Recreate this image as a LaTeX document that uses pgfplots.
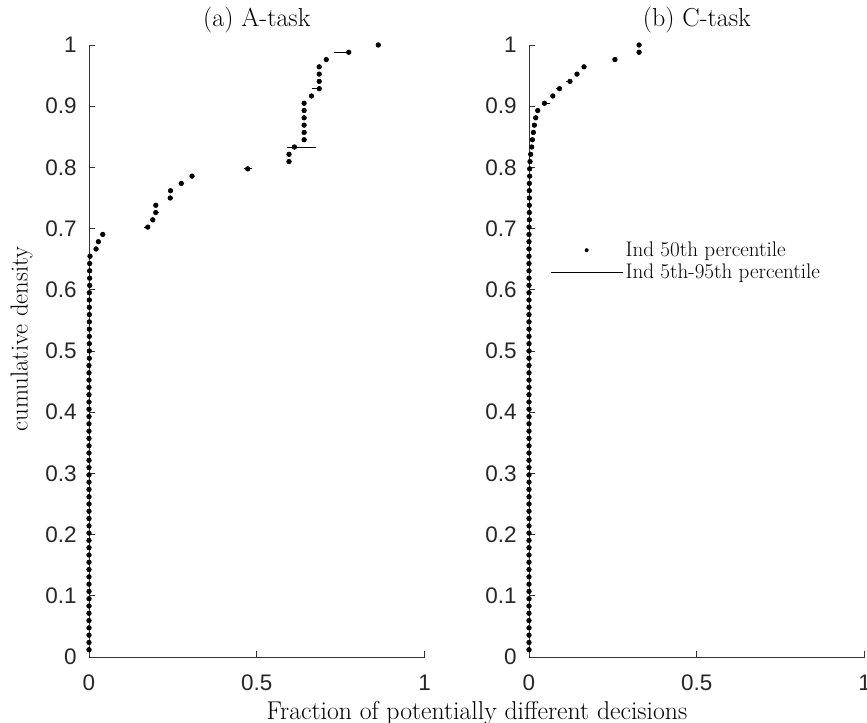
\documentclass[border=0pt]{standalone}
\usepackage{fontspec}
\newfontfamily\ticksans{Liberation Sans}
\usepackage{pgfplots}
\usepackage{pgfplotstable}
\pgfplotsset{compat=1.18}

% A-task: median fraction (x), cumulative density (y), 5th/95th spread (em, ep)
\pgfplotstableread{
x y em ep
0.000 0.0119 0 0
0.000 0.0238 0 0
0.000 0.0357 0 0
0.000 0.0476 0 0
0.000 0.0595 0 0
0.000 0.0714 0 0
0.000 0.0833 0 0
0.000 0.0952 0 0
0.000 0.1071 0 0
0.000 0.1190 0 0
0.000 0.1310 0 0
0.000 0.1429 0 0
0.000 0.1548 0 0
0.000 0.1667 0 0
0.000 0.1786 0 0
0.000 0.1905 0 0
0.000 0.2024 0 0
0.000 0.2143 0 0
0.000 0.2262 0 0
0.000 0.2381 0 0
0.000 0.2500 0 0
0.000 0.2619 0 0
0.000 0.2738 0 0
0.000 0.2857 0 0
0.000 0.2976 0 0
0.000 0.3095 0 0
0.000 0.3214 0 0
0.000 0.3333 0 0
0.000 0.3452 0 0
0.000 0.3571 0 0
0.000 0.3690 0 0
0.000 0.3810 0 0
0.000 0.3929 0 0
0.000 0.4048 0 0
0.000 0.4167 0 0
0.000 0.4286 0 0
0.000 0.4405 0 0
0.000 0.4524 0 0
0.000 0.4643 0 0
0.000 0.4762 0 0
0.001 0.4881 0 0
0.001 0.5000 0 0
0.001 0.5119 0 0
0.001 0.5238 0 0
0.001 0.5357 0 0
0.001 0.5476 0 0
0.001 0.5595 0 0
0.001 0.5714 0 0
0.001 0.5833 0 0
0.001 0.5952 0 0
0.002 0.6071 0 0
0.002 0.6190 0 0
0.002 0.6310 0 0
0.002 0.6429 0 0
0.003 0.6548 0 0
0.021 0.6667 0 0
0.028 0.6786 0 0
0.041 0.6905 0 0
0.175 0.7024 0.010 0
0.190 0.7143 0 0
0.199 0.7262 0 0.010
0.199 0.7381 0 0
0.242 0.7500 0 0.008
0.243 0.7619 0 0
0.275 0.7738 0 0.009
0.307 0.7857 0 0
0.473 0.7976 0.010 0.012
0.596 0.8095 0 0
0.596 0.8214 0 0
0.612 0.8333 0.021 0.064
0.641 0.8452 0 0.010
0.641 0.8571 0 0
0.641 0.8690 0 0
0.641 0.8810 0 0
0.641 0.8929 0 0
0.641 0.9048 0 0
0.663 0.9167 0 0
0.686 0.9286 0.022 0
0.686 0.9405 0 0
0.686 0.9524 0 0
0.686 0.9643 0 0
0.707 0.9762 0 0
0.774 0.9881 0.044 0
0.862 1.0000 0 0
}\Atask

% C-task
\pgfplotstableread{
x y em ep
0.000 0.0119 0 0
0.000 0.0238 0 0
0.000 0.0357 0 0
0.000 0.0476 0 0
0.000 0.0595 0 0
0.000 0.0714 0 0
0.000 0.0833 0 0
0.000 0.0952 0 0
0.000 0.1071 0 0
0.000 0.1190 0 0
0.000 0.1310 0 0
0.000 0.1429 0 0
0.000 0.1548 0 0
0.000 0.1667 0 0
0.000 0.1786 0 0
0.000 0.1905 0 0
0.000 0.2024 0 0
0.000 0.2143 0 0
0.000 0.2262 0 0
0.000 0.2381 0 0
0.000 0.2500 0 0
0.000 0.2619 0 0
0.000 0.2738 0 0
0.000 0.2857 0 0
0.000 0.2976 0 0
0.000 0.3095 0 0
0.000 0.3214 0 0
0.000 0.3333 0 0
0.000 0.3452 0 0
0.000 0.3571 0 0
0.000 0.3690 0 0
0.000 0.3810 0 0
0.000 0.3929 0 0
0.000 0.4048 0 0
0.000 0.4167 0 0
0.000 0.4286 0 0
0.000 0.4405 0 0
0.000 0.4524 0 0
0.000 0.4643 0 0
0.000 0.4762 0 0
0.000 0.4881 0 0
0.000 0.5000 0 0
0.000 0.5119 0 0
0.000 0.5238 0 0
0.000 0.5357 0 0
0.000 0.5476 0 0
0.000 0.5595 0 0
0.000 0.5714 0 0
0.000 0.5833 0 0
0.000 0.5952 0 0
0.000 0.6071 0 0
0.000 0.6190 0 0
0.000 0.6310 0 0
0.000 0.6429 0 0
0.000 0.6548 0 0
0.000 0.6667 0 0
0.000 0.6786 0 0
0.000 0.6905 0 0
0.000 0.7024 0 0
0.001 0.7143 0 0
0.001 0.7262 0 0
0.001 0.7381 0 0
0.001 0.7500 0 0
0.001 0.7619 0 0
0.001 0.7738 0 0
0.002 0.7857 0 0
0.002 0.7976 0 0
0.003 0.8095 0 0
0.005 0.8214 0 0
0.008 0.8333 0 0
0.010 0.8452 0 0
0.013 0.8571 0 0
0.016 0.8690 0 0
0.020 0.8810 0 0
0.026 0.8929 0 0
0.046 0.9048 0 0.017
0.071 0.9167 0 0
0.091 0.9286 0.012 0
0.122 0.9405 0.012 0
0.143 0.9524 0 0
0.164 0.9643 0 0
0.256 0.9762 0 0
0.328 0.9881 0 0
0.328 1.0000 0 0
}\Ctask

\pgfplotsset{
  cdfpanel/.style={
    scale only axis, width=83.9mm, height=153mm,
    xmin=0, xmax=1, ymin=0, ymax=1,
    axis lines*=left,
    axis line style={black!80, line width=0.6pt},
    tick align=inside, major tick length=1.4mm,
    tick style={black!80, line width=0.6pt},
    xtick={0,0.5,1},
    ytick={0,0.1,0.2,0.3,0.4,0.5,0.6,0.7,0.8,0.9,1},
    /pgf/number format/assume math mode=true,
    tick label style={font=\ticksans\fontsize{16}{18}\selectfont, text=black!85},
    yticklabel style={inner sep=0pt, anchor=east, xshift=-3mm},
    xticklabel style={inner sep=0pt, anchor=north, yshift=-4.5mm},
    every axis title shift=0pt,
    title style={font=\fontsize{18.5}{22}\selectfont, at={(0.5,1)}, anchor=base, yshift=4.6mm},
    clip=false,
  },
  dots/.style={only marks, mark=*, mark size=0.58mm, black,
    error bars/.cd, x dir=both, x explicit, error mark=none,
    error bar style={black, line width=0.6pt}},
}

\begin{document}
\begin{tikzpicture}
\begin{axis}[cdfpanel, at={(22.25mm,16.5mm)}, anchor=south west, title={(a) A-task}]
\addplot[dots] table[x=x, y=y, x error plus=ep, x error minus=em] {\Atask};
\end{axis}

\begin{axis}[cdfpanel, at={(132.25mm,16.5mm)}, anchor=south west, title={(b) C-task},
  legend cell align=left,
  legend style={draw=none, fill=none, at={(0.0625,0.683)}, anchor=north west,
    inner sep=0pt, font=\fontsize{15}{18}\selectfont, nodes={inner sep=1.8pt}}]
\addplot[dots, /pgfplots/legend image code/.code={
    \path[draw=none, fill=none] (0mm,-0.5mm) rectangle (18mm,0.5mm);
    \fill[black, draw=none] (9mm,0mm) circle[radius=0.5mm];}]
  table[x=x, y=y, x error plus=ep, x error minus=em] {\Ctask};
\addlegendentry{Ind 50th percentile}
\addlegendimage{legend image code/.code={\draw[black, line width=0.6pt] (0mm,0mm) -- (18mm,0mm);}}
\addlegendentry{Ind 5th-95th percentile}
\end{axis}

\node[font=\fontsize{18.3}{22}\selectfont, anchor=base] at (119.25mm,0.9mm) {Fraction of potentially different decisions};
\node[font=\fontsize{17.5}{21}\selectfont, rotate=90] at (5.4mm,96mm) {cumulative density};

\pgfresetboundingbox
\path[use as bounding box] (0,0) rectangle (216.75mm,180.75mm);
\end{tikzpicture}
\end{document}
